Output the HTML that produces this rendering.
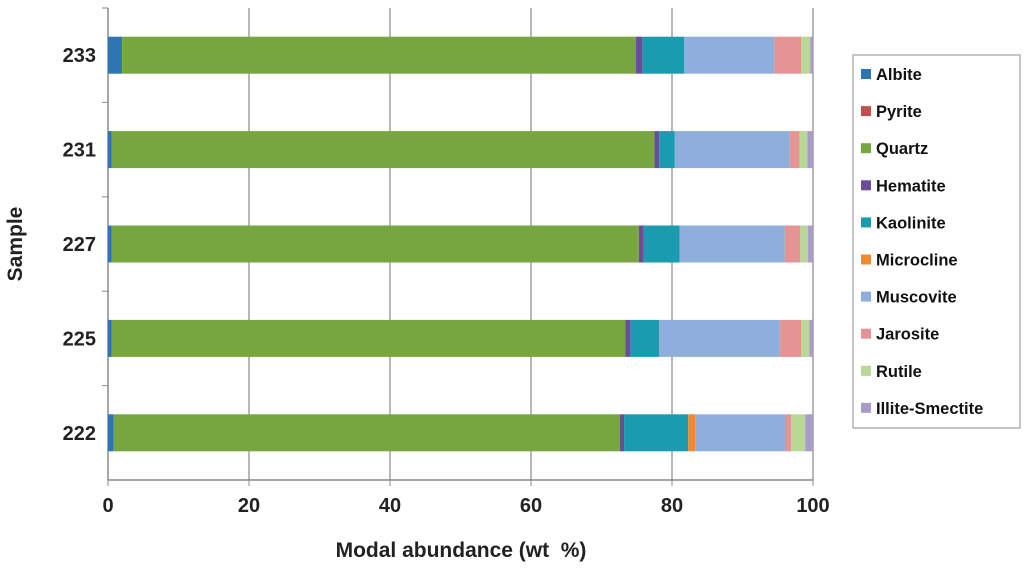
<!DOCTYPE html>
<html><head><meta charset="utf-8"><style>
body{margin:0;background:#fff;font-family:"Liberation Sans",sans-serif;}
svg text{font-family:"Liberation Sans",sans-serif;font-weight:bold;}
</style></head><body>
<svg id="chart" width="1024" height="581" xmlns="http://www.w3.org/2000/svg"></svg>
<script>
const categories=["233","231","227","225","222"];
const minerals=["Albite","Pyrite","Quartz","Hematite","Kaolinite","Microcline","Muscovite","Jarosite","Rutile","Illite-Smectite"];
const colors=["#2e75b6","#c0504d","#77a640","#6b4c9a","#1a9bb0","#f08a30","#8eaedb","#e69493","#b7d897","#a99cc8"];
const s233=[2.0,0,72.9,0.9,5.9,0,12.8,3.8,1.3,0.4];
const s231=[0.5,0,77.0,0.7,2.2,0,16.3,1.4,1.1,0.8];
const s227=[0.5,0,74.8,0.7,5.1,0,14.9,2.2,1.1,0.7];
const s225=[0.5,0,72.9,0.7,4.1,0,17.1,3.0,1.2,0.5];
const s222=[0.8,0,71.8,0.6,9.1,1.0,12.8,0.8,2.0,1.1];
const seriesByCat=[s233,s231,s227,s225,s222];
const xTicks=[0,20,40,60,80,100];

const NS="http://www.w3.org/2000/svg";
const svg=document.getElementById('chart');
const L=108,R=813,T=8,B=480;
const xs=v=>L+(v/100)*(R-L);
const band=(B-T)/categories.length;
function mk(tag,attrs,parent){const e=document.createElementNS(NS,tag);for(const k in attrs)e.setAttribute(k,attrs[k]);(parent||svg).appendChild(e);return e;}

xTicks.forEach((t,i)=>{
  if(t>0){const g=mk('line',{x1:xs(t),x2:xs(t),y1:T,y2:B,stroke:'#a0a0a0','stroke-width':1.5});
  
  }
  const tk=mk('line',{x1:xs(t),x2:xs(t),y1:B,y2:B+6,stroke:'#888'});
  
  
  const tx=mk('text',{x:xs(t),y:B+32,'text-anchor':'middle','font-size':20,fill:'#222'});
  tx.textContent=t;
  
  
});
const ax=mk('line',{x1:L,x2:L,y1:T,y2:B,stroke:'#888','stroke-width':1.5});


const axx=mk('line',{x1:L,x2:R,y1:B,y2:B,stroke:'#888','stroke-width':1.5});



categories.forEach((c,ci)=>{
  const yTop=T+ci*band;
  const tk=mk('line',{x1:L-6,x2:L,y1:yTop,y2:yTop,stroke:'#888'});
  
  
  const cy=yTop+band/2;
  const bh=37;
  let acc=0;
  seriesByCat[ci].forEach((v,si)=>{
    if(v>0){
      const r=mk('rect',{x:xs(acc),y:cy-bh/2,width:xs(acc+v)-xs(acc),height:bh,fill:colors[si]});
      
      
    }
    acc+=v;
  });
  const lb=mk('text',{x:L-12,y:cy+7,'text-anchor':'end','font-size':20,fill:'#222'});
  lb.textContent=c;
  
  
});

const xt=mk('text',{x:461,y:557,'text-anchor':'middle','font-size':21,fill:'#222'});
xt.textContent='Modal abundance (wt\u00a0 %)';


const yt=mk('text',{x:0,y:0,'text-anchor':'middle','font-size':21,fill:'#222',transform:'translate(22,244) rotate(-90)'});
yt.textContent='Sample';



const lg=mk('g',{});


mk('rect',{x:853,y:55,width:167,height:373,fill:'#fff',stroke:'#a0a0a0','stroke-width':1.2},lg);
minerals.forEach((m,i)=>{
  const y=74+i*37.1;
  const e=mk('g',{},lg);
  
  
  mk('rect',{x:861,y:y-5,width:10,height:10,fill:colors[i]},e);
  const t=mk('text',{x:876,y:y+6,'font-size':16.5,fill:'#111'},e);
  t.textContent=m;
});
</script>
</body></html>
